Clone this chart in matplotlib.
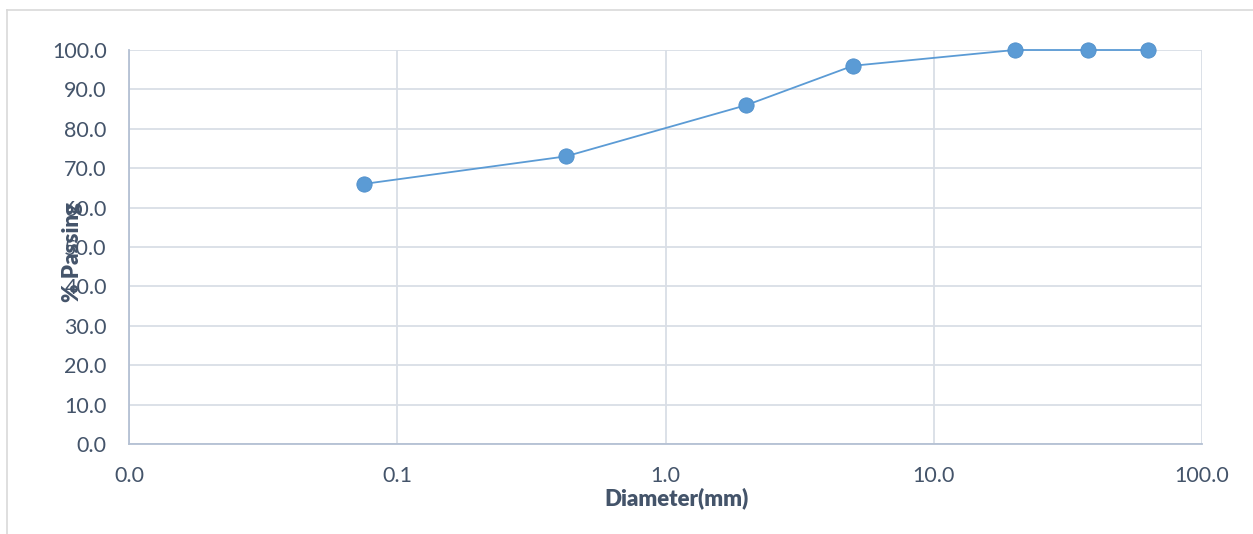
import matplotlib
matplotlib.use("Agg")
import matplotlib.pyplot as plt
from matplotlib.lines import Line2D
from matplotlib.ticker import FuncFormatter, FixedLocator

plt.rcParams['font.family'] = ['Lato', 'DejaVu Sans']

# sieve analysis
diameter_mm = [0.075, 0.425, 2.0, 5.0, 20.0, 37.5, 63.0]
passing_pct = [66.0, 73.0, 86.0, 96.0, 100.0, 100.0, 100.0]

x_ticks = [0.01, 0.1, 1.0, 10.0, 100.0]
y_ticks = [0, 10, 20, 30, 40, 50, 60, 70, 80, 90, 100]

text_col = "#44546A"
grid_col = "#D9DEE6"
axis_col = "#B4C0D3"
line_col = "#5B9BD5"

fig = plt.figure(figsize=(12.53, 5.34), dpi=100)
ax = fig.add_axes([129/1253, 1-444/534, (1202-129)/1253, (444-50)/534])

ax.plot(diameter_mm, passing_pct, color=line_col, lw=1.3, marker='o',
        markersize=11, markerfacecolor=line_col, markeredgecolor="#4F8FCB",
        markeredgewidth=0.6, zorder=3, clip_on=False)

ax.set_xscale("log")
ax.set_xlim(0.01, 100)
ax.set_ylim(0, 100)
ax.xaxis.set_major_locator(FixedLocator(x_ticks))
ax.xaxis.set_minor_locator(FixedLocator([]))
ax.yaxis.set_major_locator(FixedLocator(y_ticks))
ax.xaxis.set_major_formatter(FuncFormatter(lambda v, p: f"{v:.1f}"))
ax.yaxis.set_major_formatter(FuncFormatter(lambda v, p: f"{v:.1f}"))

ax.grid(True, color=grid_col, lw=1.3, zorder=0)
ax.set_axisbelow(True)
for s in ["top", "right"]:
    ax.spines[s].set_visible(False)
for s in ["left", "bottom"]:
    ax.spines[s].set_color(axis_col)
    ax.spines[s].set_linewidth(1.3)

ax.tick_params(axis='both', length=0, labelsize=15.5, labelcolor=text_col)
ax.tick_params(axis='y', pad=16)
ax.tick_params(axis='x', pad=16)

ax.set_xlabel("Diameter(mm)", fontsize=16, fontweight='heavy', color=text_col)
ax.xaxis.set_label_coords(0.51, -0.11)
ax.set_ylabel("% Passing", fontsize=16, fontweight='heavy', color=text_col)
ax.yaxis.set_label_coords(-0.043, 0.487)

# chart frame
fig.add_artist(Line2D([7/1253, 7/1253], [0, 1-10/534], color="#D9D9D9", lw=1.2))
fig.add_artist(Line2D([7/1253, 1], [1-10/534, 1-10/534], color="#D9D9D9", lw=1.2))

fig.savefig("out.png", dpi=100, facecolor="white")
